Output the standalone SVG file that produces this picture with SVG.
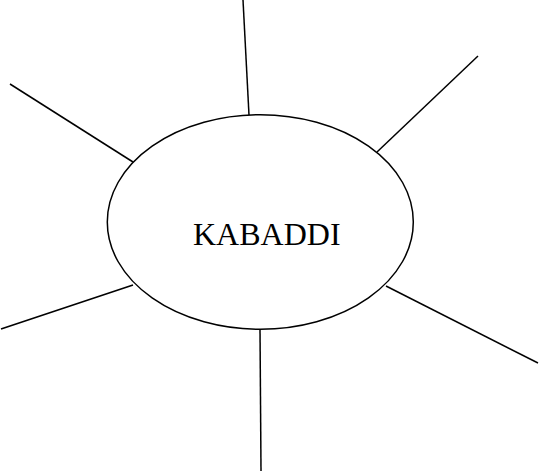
<svg xmlns="http://www.w3.org/2000/svg" width="539" height="472" viewBox="0 0 539 472">
<style>
.ln{stroke:#000;stroke-width:1.5;fill:none}
.nd{fill:#fff;stroke:#000;stroke-width:1.5}
.lb{font-family:"Liberation Serif","Times New Roman",serif;font-size:32px;fill:#000}
</style>
<rect width="539" height="472" fill="#fff"/>
<g id="connectors">
<line class="ln" x1="243" y1="0" x2="249" y2="115"/>
<line class="ln" x1="10" y1="84" x2="133" y2="162"/>
<line class="ln" x1="478" y1="56" x2="377" y2="152"/>
<line class="ln" x1="1" y1="329" x2="133" y2="285"/>
<line class="ln" x1="386" y1="286" x2="538" y2="363"/>
<line class="ln" x1="260" y1="329" x2="261" y2="471"/>
</g>
<g id="kabaddi">
<ellipse class="nd" cx="260.3" cy="222" rx="153" ry="107.3"/>
<text class="lb" x="193" y="245">KABADDI</text>
</g>
</svg>
